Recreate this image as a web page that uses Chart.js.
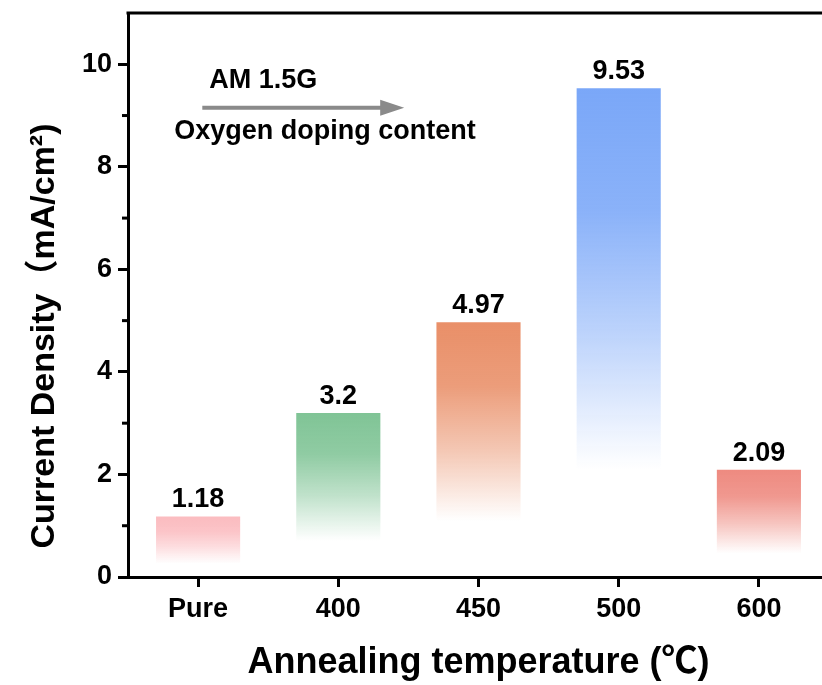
<!DOCTYPE html>
<html>
<head>
<meta charset="utf-8">
<script src="https://cdn.jsdelivr.net/npm/chart.js@4.4.1/dist/chart.umd.min.js"></script>
<style>
  html, body { margin: 0; padding: 0; background: #fff; overflow: hidden; }
  #wrap { width: 832px; height: 685px; }
</style>
</head>
<body>
<div id="wrap"><canvas id="js-chart-density" width="832" height="685"></canvas></div>
<script>
// Chart data
const categories = ['Pure', '400', '450', '500', '600'];
const densities = [1.18, 3.2, 4.97, 9.53, 2.09];
const barColors = ['251,188,192', '128,196,150', '233,143,104', '122,167,248', '238,138,128'];
const yTicks = [0, 2, 4, 6, 8, 10];

const FONT = "'Liberation Sans', Arial, 'Noto Sans CJK SC', sans-serif";

// Fading bar fill, from full colour at the top to nothing near the base
function barFill(ctx) {
  const chart = ctx.chart;
  if (!chart.chartArea || ctx.raw === undefined) return 'transparent';
  const y = chart.scales.y;
  const top = y.getPixelForValue(ctx.raw);
  const bot = y.getPixelForValue(0);
  const rgb = barColors[ctx.dataIndex];
  const g = chart.ctx.createLinearGradient(0, top, 0, bot);
  g.addColorStop(0, 'rgba(' + rgb + ',1)');
  g.addColorStop(0.25, 'rgba(' + rgb + ',0.88)');
  g.addColorStop(0.5, 'rgba(' + rgb + ',0.5)');
  g.addColorStop(0.78, 'rgba(' + rgb + ',0)');
  g.addColorStop(1, 'rgba(' + rgb + ',0)');
  return g;
}

// Extras: top frame, minor ticks, y title, value labels, arrow note
const extras = {
  id: 'extras',
  afterDatasetsDraw(chart) {
    const c = chart.ctx;
    const area = chart.chartArea;
    const x = chart.scales.x;
    const y = chart.scales.y;
    c.save();

    // top frame line
    c.strokeStyle = '#000';
    c.lineWidth = 3;
    c.beginPath();
    c.moveTo(area.left - 1.5, area.top);
    c.lineTo(area.right, area.top);
    c.stroke();

    // minor ticks on y
    for (let v = 1; v < y.max; v += 2) {
      const py = y.getPixelForValue(v);
      c.beginPath();
      c.moveTo(area.left, py);
      c.lineTo(area.left - 6, py);
      c.stroke();
    }

    // y axis title (sits a little below the middle, as in the original)
    c.fillStyle = '#000';
    c.save();
    c.translate(45, y.getPixelForValue(4.7));
    c.rotate(-Math.PI / 2);
    c.font = 'bold 34px ' + FONT;
    c.textAlign = 'center';
    c.textBaseline = 'middle';
    c.fillText('Current Density（mA/cm²)', 0, 0);
    c.restore();

    // value labels
    c.font = 'bold 27px ' + FONT;
    c.textAlign = 'center';
    c.textBaseline = 'bottom';
    chart.getDatasetMeta(0).data.forEach((bar, i) => {
      c.fillText(String(densities[i]), bar.x, bar.y - 3);
    });

    // note with arrow
    c.textAlign = 'left';
    c.textBaseline = 'middle';
    c.font = 'bold 27px ' + FONT;
    c.fillText('AM 1.5G', x.getPixelForValue(0.08), y.getPixelForValue(9.69));
    c.fillText('Oxygen doping content', x.getPixelForValue(-0.17), y.getPixelForValue(8.68));

    const ay = y.getPixelForValue(9.15);
    const ax0 = x.getPixelForValue(0.03);
    const ax1 = x.getPixelForValue(1.47);
    c.strokeStyle = '#8a8a8a';
    c.fillStyle = '#8a8a8a';
    c.lineWidth = 4;
    c.beginPath();
    c.moveTo(ax0, ay);
    c.lineTo(ax1 - 20, ay);
    c.stroke();
    c.beginPath();
    c.moveTo(ax1, ay);
    c.lineTo(ax1 - 24, ay - 8);
    c.lineTo(ax1 - 24, ay + 8);
    c.closePath();
    c.fill();

    c.restore();
  }
};

new Chart(document.getElementById('js-chart-density'), {
  type: 'bar',
  data: {
    labels: categories,
    datasets: [{
      data: densities,
      backgroundColor: barFill,
      borderWidth: 0,
      barPercentage: 0.6,
      categoryPercentage: 1
    }]
  },
  options: {
    responsive: false,
    animation: false,
    layout: { padding: { top: 13, right: 3, left: 0, bottom: 0 } },
    plugins: { legend: { display: false }, tooltip: { enabled: false } },
    scales: {
      x: {
        grid: { offset: false, drawOnChartArea: false, tickLength: 10, tickWidth: 3, tickColor: '#000' },
        border: { color: '#000', width: 3 },
        ticks: { color: '#000', font: { family: FONT, size: 27, weight: 'bold' }, padding: 6 },
        title: {
          display: true,
          text: 'Annealing temperature (℃)',
          color: '#000',
          font: { family: FONT, size: 36, weight: 'bold' },
          padding: { top: 10, bottom: 0 }
        },
        afterFit(scale) { scale.height = 108; }
      },
      y: {
        min: 0,
        max: 11,
        grid: {
          drawOnChartArea: false,
          tickLength: 10,
          tickWidth: 3,
          tickColor: (ctx) => (yTicks.includes(ctx.tick.value) ? '#000' : 'transparent')
        },
        border: { color: '#000', width: 3 },
        ticks: {
          stepSize: 1,
          autoSkip: false,
          color: '#000',
          padding: 6,
          font: { family: FONT, size: 27, weight: 'bold' },
          callback: (v) => (yTicks.includes(v) ? String(v) : '')
        },
        afterFit(scale) {
          scale.width = 128;
          scale.paddingTop = 0;
          scale.paddingBottom = 0;
        }
      }
    }
  },
  plugins: [extras]
});
</script>
</body>
</html>
